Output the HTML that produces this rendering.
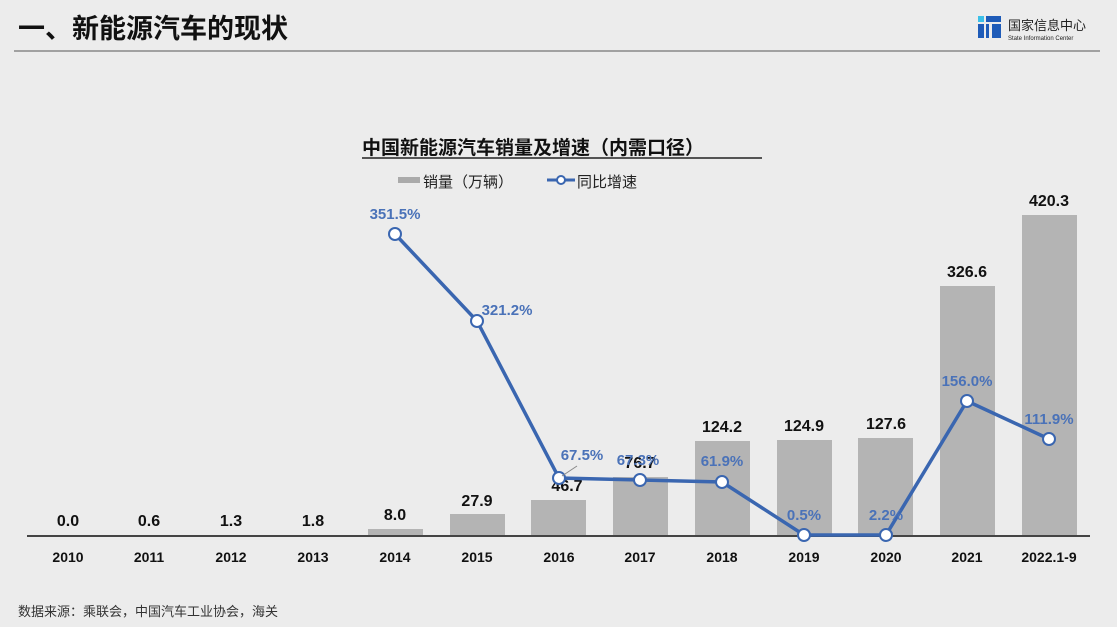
<!DOCTYPE html><html><head><meta charset="utf-8"><style>
body{margin:0;width:1117px;height:622px;background:#ececec;overflow:hidden}
svg text{font-family:"Liberation Sans","Noto Sans CJK SC",sans-serif}
</style></head><body>
<svg width="1117" height="622" xmlns="http://www.w3.org/2000/svg">
<rect width="1117" height="622" fill="#ececec"/>
<text x="18" y="38" font-size="27" font-weight="bold" fill="#111">一、新能源汽车的现状</text>
<line x1="14" y1="51" x2="1100" y2="51" stroke="#888" stroke-width="1.5"/>
<rect x="978" y="16" width="6" height="6" fill="#3cc0e8"/>
<rect x="986" y="16" width="15" height="6" fill="#1e5bb8"/>
<rect x="978" y="24" width="6" height="14" fill="#1e5bb8"/>
<rect x="986" y="24" width="15" height="14" fill="#1e5bb8"/>
<rect x="989" y="24" width="3" height="14" fill="#ececec"/>
<text x="1008" y="30" font-size="13" fill="#222">国家信息中心</text>
<text x="1008" y="40" font-size="6" fill="#222">State Information Center</text>
<text x="362" y="154" font-size="19" font-weight="bold" fill="#111">中国新能源汽车销量及增速（内需口径）</text>
<line x1="362" y1="158" x2="762" y2="158" stroke="#222" stroke-width="1.5"/>
<rect x="398" y="177" width="22" height="6" fill="#aaa"/>
<text x="423" y="187" font-size="15" fill="#222">销量（万辆）</text>
<line x1="547" y1="180" x2="575" y2="180" stroke="#3a66b0" stroke-width="3"/>
<circle cx="561" cy="180" r="4" fill="#fff" stroke="#3a66b0" stroke-width="2"/>
<text x="577" y="187" font-size="15" fill="#222">同比增速</text>
<g fill="#b4b4b4">
<rect x="41" y="535" width="55" height="0"/>
<rect x="368" y="529" width="55" height="6"/>
<rect x="450" y="514" width="55" height="21"/>
<rect x="531" y="500" width="55" height="35"/>
<rect x="613" y="477" width="55" height="58"/>
<rect x="695" y="441" width="55" height="94"/>
<rect x="777" y="440" width="55" height="95"/>
<rect x="858" y="438" width="55" height="97"/>
<rect x="940" y="286" width="55" height="249"/>
<rect x="1022" y="215" width="55" height="320"/>
</g>
<line x1="27" y1="536" x2="1090" y2="536" stroke="#444" stroke-width="2"/>
<g font-size="16" font-weight="bold" fill="#111" text-anchor="middle">
<text x="68" y="526">0.0</text><text x="149" y="526">0.6</text><text x="231" y="526">1.3</text><text x="313" y="526">1.8</text><text x="395" y="520">8.0</text><text x="477" y="506">27.9</text><text x="567" y="491">46.7</text><text x="640" y="468">76.7</text><text x="722" y="432">124.2</text><text x="804" y="431">124.9</text><text x="886" y="429">127.6</text><text x="967" y="277">326.6</text><text x="1049" y="206">420.3</text>
</g>
<g font-size="14" font-weight="bold" fill="#111" text-anchor="middle">
<text x="68" y="562">2010</text><text x="149" y="562">2011</text><text x="231" y="562">2012</text><text x="313" y="562">2013</text><text x="395" y="562">2014</text><text x="477" y="562">2015</text><text x="559" y="562">2016</text><text x="640" y="562">2017</text><text x="722" y="562">2018</text><text x="804" y="562">2019</text><text x="886" y="562">2020</text><text x="967" y="562">2021</text><text x="1049" y="562">2022.1-9</text>
</g>
<polyline points="395,234 477,321 559,478 640,480 722,482 804,535 886,535 967,401 1049,439" fill="none" stroke="#3a66b0" stroke-width="3.5"/>
<g fill="#fff" stroke="#3a66b0" stroke-width="2">
<circle cx="395" cy="234" r="6"/><circle cx="477" cy="321" r="6"/><circle cx="559" cy="478" r="6"/><circle cx="640" cy="480" r="6"/><circle cx="722" cy="482" r="6"/><circle cx="804" cy="535" r="6"/><circle cx="886" cy="535" r="6"/><circle cx="967" cy="401" r="6"/><circle cx="1049" cy="439" r="6"/>
</g>
<line x1="562" y1="476" x2="577" y2="466" stroke="#888" stroke-width="1"/>
<g font-size="15" font-weight="bold" fill="#4a72b8" text-anchor="middle">
<text x="395" y="219">351.5%</text><text x="507" y="315">321.2%</text><text x="582" y="460">67.5%</text><text x="638" y="465">67.3%</text><text x="722" y="466">61.9%</text><text x="804" y="520">0.5%</text><text x="886" y="520">2.2%</text><text x="967" y="386">156.0%</text><text x="1049" y="424">111.9%</text>
</g>
<text x="18" y="616" font-size="13" fill="#333">数据来源：乘联会，中国汽车工业协会，海关</text>
</svg>
</body></html>
